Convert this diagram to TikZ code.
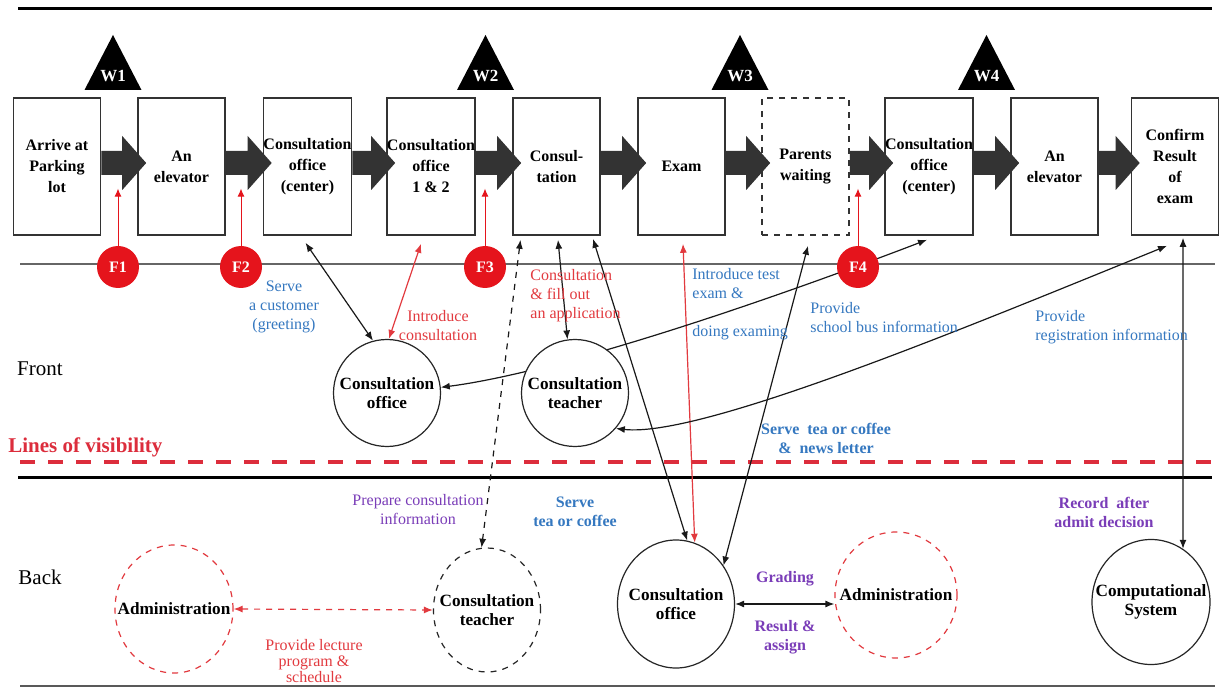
\documentclass[tikz,border=0pt]{standalone}
\usepackage{fontspec}
\setmainfont{Liberation Serif}
\usetikzlibrary{arrows.meta,calc,shapes.geometric,backgrounds}
\definecolor{lblblue}{HTML}{3578C0}
\definecolor{lblred}{HTML}{E23A3F}
\definecolor{lblpurple}{HTML}{7A3DB8}
\definecolor{failred}{HTML}{E5141C}
\definecolor{visred}{HTML}{DC2D3C}
\definecolor{flowgray}{HTML}{333333}

% block arrow between two process boxes
\newcommand{\drawflow}[2]{%
  \fill[blockarrow] ($(#1.east)+(0,-15.5)$) -- ($(#2.west)+(-15,-15.5)$)
    -- ($(#2.west)+(-15,-30.5)$) -- ($(#2.west)+(9,-3.5)$)
    -- ($(#2.west)+(-15,23.5)$) -- ($(#2.west)+(-15,8.5)$)
    -- ($(#1.east)+(0,8.5)$) -- cycle;}

\begin{document}
\begin{tikzpicture}[x=0.5pt,y=-0.5pt,
  procbox/.style={draw=black!80, line width=0.8pt, fill=white, minimum width=43.5pt,
    minimum height=68.5pt, inner sep=0pt, align=center,
    font=\fontsize{8}{10.5}\selectfont\bfseries},
  waittri/.style={fill=black},
  waitlbl/.style={text=white, inner sep=0pt, font=\fontsize{8.5}{10}\selectfont\bfseries},
  failmark/.style={circle, fill=failred, minimum size=21pt, inner sep=0pt, text=white,
    font=\fontsize{8}{9}\selectfont\bfseries},
  failarrow/.style={draw=failred, line width=0.5pt, -{Latex[length=4pt,width=3.5pt]}},
  blockarrow/.style={fill=flowgray},
  frontcirc/.style={circle, draw=black!85, line width=0.6pt, fill=white,
    minimum size=53.5pt, inner sep=0pt},
  backcirc/.style={ellipse, draw=black!85, line width=0.6pt, fill=white, inner sep=0pt},
  admincirc/.style={backcirc, draw=lblred, dashed},
  circtxt/.style={align=center, inner sep=0pt, font=\fontsize{8.6}{9.5}\selectfont\bfseries},
  link/.style={draw=black!90, line width=0.6pt,
    {Latex[length=4.5pt,width=3.5pt]}-{Latex[length=4.5pt,width=3.5pt]}},
  redlink/.style={link, draw=lblred},
  lbl/.style={inner sep=0pt, font=\fontsize{8}{9.5}\selectfont},
  boldlbl/.style={inner sep=0pt, font=\fontsize{8}{9.5}\selectfont\bfseries},
  lanelbl/.style={inner sep=0pt, font=\fontsize{10.5}{12}\selectfont},
]
\useasboundingbox (0,0) rectangle (1225,689);

% page background and lane lines
\begin{scope}[on background layer]
  \fill[white] (0,0) rectangle (1225,689);
  \draw[line width=1.5pt] (18,9) -- (1212,9);
  \draw[line width=1pt, black!60] (20,264) -- (1215,264);
  \draw[visred, line width=1.75pt, dash pattern=on 7.5pt off 6.5pt] (20,462) -- (1222,462);
  \draw[line width=1.5pt] (18,477) -- (1212,477);
  \draw[line width=0.8pt, black!65] (20,686) -- (1215,686);
\end{scope}

% customer actions
\node[procbox] (b1) at (57,166.5) {Arrive at\\Parking\\lot};
\node[procbox] (b2) at (181.5,166.5) {An\\elevator};
\node[procbox] (b3) at (307.5,166.5) {Consultation\\office\\(center)};
\node[procbox] (b4) at (431,166.5) {Consultation\\office\\1 \& 2};
\node[procbox] (b5) at (556.5,166.5) {Consul-\\tation};
\node[procbox] (b6) at (681.5,166.5) {Exam};
\node[procbox, dashed] (b7) at (805.5,166.5) {Parents\\waiting};
\node[procbox] (b8) at (929,166.5) {Consultation\\office\\(center)};
\node[procbox] (b9) at (1054.5,166.5) {An\\elevator};
\node[procbox] (b10) at (1175,166.5) {Confirm\\Result\\of\\exam};

\drawflow{b1}{b2}
\drawflow{b2}{b3}
\drawflow{b3}{b4}
\drawflow{b4}{b5}
\drawflow{b5}{b6}
\drawflow{b6}{b7}
\drawflow{b7}{b8}
\drawflow{b8}{b9}
\drawflow{b9}{b10}

% waiting points
\foreach \x/\n in {113/1, 485.5/2, 740/3, 986.5/4} {
  \fill[waittri] (\x,35) -- (\x-28.5,90) -- (\x+28.5,90) -- cycle;
  \node[waitlbl] (w\n) at (\x,76) {W\n};
}

% fail points
\foreach \x/\n in {118/1, 241/2, 485/3, 858/4} {
  \node[failmark] (f\n) at (\x,267) {F\n};
  \draw[failarrow] (f\n.north) -- ++(0,-57);
}

% front stage
\node[frontcirc, label={[circtxt]center:Consultation\\office}] (fo) at (387,393) {};
\node[frontcirc, label={[circtxt]center:Consultation\\teacher}] (ft) at (575,393) {};

% back stage
\node[admincirc, minimum width=59pt, minimum height=64pt,
  label={[circtxt]center:Administration}] (al) at (174,609) {};
\node[backcirc, dashed, minimum width=53.5pt, minimum height=62pt,
  label={[circtxt]center:Consultation\\teacher}] (bt) at (487,610) {};
\node[backcirc, minimum width=58.5pt, minimum height=64pt,
  label={[circtxt]center:Consultation\\office}] (bo) at (676,604) {};
\node[admincirc, minimum width=61pt, minimum height=63pt,
  label={[circtxt]center:Administration}] (ar) at (896,595) {};
\node[backcirc, minimum width=59pt, minimum height=62.5pt,
  label={[circtxt]center:Computational\\System}] (cs) at (1151,602) {};

% lane names
\node[lanelbl] (front) at (40,369) {Front};
\node[lanelbl] (back) at (40,577) {Back};
\node[inner sep=0pt, anchor=west, text=visred,
  font=\fontsize{10.5}{12}\selectfont\bfseries] (vis) at (8,447) {Lines of visibility};

% interaction labels
\node[lbl, text=lblblue, align=center] (l-greet) at (284,307) {Serve\\a customer\\(greeting)};
\node[lbl, text=lblred, align=center] (l-intro) at (438,326) {Introduce\\consultation};
\node[lbl, text=lblred, align=left, anchor=west] (l-apply) at (530,296)
  {Consultation\\\& fill out\\an application};
\node[lbl, text=lblblue, align=left, anchor=west] (l-exam) at (692,304)
  {Introduce test\\exam \&\\[9.5pt]doing examing};
\node[lbl, text=lblblue, align=left, anchor=west] (l-bus) at (810,317.5)
  {Provide\\school bus information};
\node[lbl, text=lblblue, align=left, anchor=west] (l-reg) at (1035,327)
  {Provide\\registration information};
\node[boldlbl, text=lblblue, align=center] (l-tea) at (826,438)
  {Serve~~tea or coffee\\\&~~news letter};
\node[lbl, text=lblpurple, align=center] (l-prep) at (418,510)
  {Prepare consultation\\information};
\node[boldlbl, text=lblblue, align=center] (l-tea2) at (575,512) {Serve\\tea or coffee};
\node[boldlbl, text=lblpurple, align=center] (l-rec) at (1104,512)
  {Record~~after\\admit decision};
\node[boldlbl, text=lblpurple] (l-grade) at (785,579) {Grading};
\node[boldlbl, text=lblpurple, align=center] (l-res) at (785,637) {Result \&\\assign};
\node[inner sep=0pt, text=lblred, align=center, font=\fontsize{8}{8.2}\selectfont]
  (l-lect) at (314,661) {Provide lecture\\program \&\\schedule};

% connectors
\begin{scope}[on background layer]
  \draw[link] ($(b3.south)+(-2,7)$) -- (fo.105);
  \draw[redlink] ($(b4.south)+(-10,8)$) -- (fo.88);
  \draw[link, dashed] ($(b5.south)+(-36,4)$) -- (bt.95);
  \draw[link] ($(b5.south)+(1.5,4)$) -- (ft.98);
  \draw[link] ($(b5.south)+(36.5,3)$) -- (bo.80);
  \draw[redlink] ($(b6.south)+(1.5,8)$) -- (bo.73);
  \draw[link] ($(b7.south)+(2.5,10)$) -- (bo.39);
  \draw[link] (fo.6) .. controls (560,372) and (770,300) .. ($(b8.south)+(-2,4)$);
  \draw[link] (ft.-41) .. controls (700,438) and (960,330) .. ($(b10.south)+(-8,10)$);
  \draw[link] ($(b10.south)+(8,2)$) -- (cs.59);
  \draw[redlink, dashed] (al.east) -- (bt.west);
  \draw[link] (bo.east) -- (bo.east -| ar.west);
\end{scope}
\end{tikzpicture}
\end{document}
